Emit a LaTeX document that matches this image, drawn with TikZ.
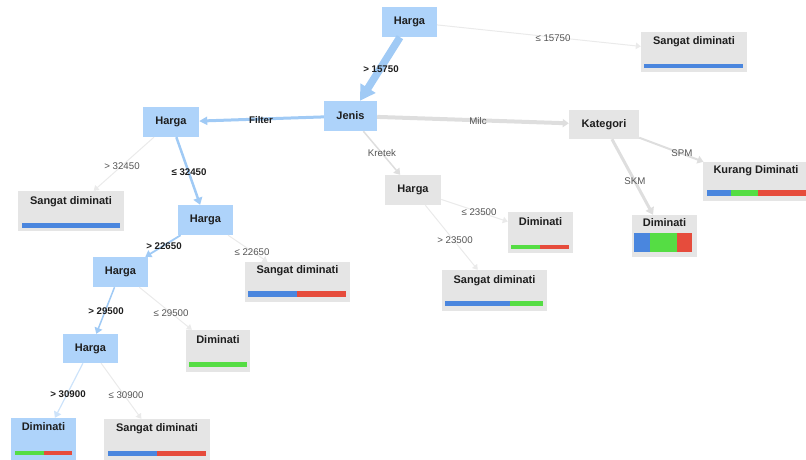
\documentclass[tikz,border=0pt]{standalone}
\usepackage{fontspec}
\setmainfont{Liberation Sans}
\usetikzlibrary{arrows.meta}
\definecolor{nblue}{RGB}{174,211,250}
\definecolor{ngray}{RGB}{229,229,229}
\definecolor{eblue}{RGB}{160,202,245}
\definecolor{epale}{RGB}{205,227,250}
\definecolor{egray}{RGB}{222,222,222}
\definecolor{elight}{RGB}{234,234,234}
\definecolor{bblue}{RGB}{74,134,222}
\definecolor{bgreen}{RGB}{85,221,68}
\definecolor{bred}{RGB}{230,76,60}
\definecolor{ltext}{RGB}{85,85,85}
\definecolor{dtext}{RGB}{30,30,30}
\begin{document}
\begin{tikzpicture}[x=1pt,y=-1pt,
  bluebox/.style={fill=nblue,draw=none,inner sep=0pt,minimum width=55pt,minimum height=30pt,
    font=\fontsize{11}{13}\selectfont\bfseries,text=dtext},
  graybox/.style={bluebox,fill=ngray},
  leaftext/.style={anchor=base,inner sep=0pt,font=\fontsize{11}{13}\selectfont\bfseries,text=dtext},
  elab/.style={inner sep=0pt,text height=7pt,text depth=0pt,font=\fontsize{9.7}{11}\selectfont,text=ltext},
  belab/.style={elab,font=\fontsize{9.7}{11}\selectfont\bfseries,text=dtext},
  arr/.style={-{Triangle[length=#1,width=1.3*#1]}},
  bedge/.style={draw=eblue},
  gedge/.style={draw=elight,line width=1pt,arr=5pt},
]
\useasboundingbox (0,0) rectangle (806,459);
% ---------- inner nodes ----------
\node[bluebox] (root) at (409.5,22) {Harga};
\node[bluebox,minimum width=53pt] (jenis) at (350.5,116) {Jenis};
\node[bluebox,minimum width=56pt] (h1) at (171,122) {Harga};
\node[bluebox] (h2) at (205.5,220) {Harga};
\node[bluebox] (h3) at (120.5,272) {Harga};
\node[bluebox,minimum height=29pt] (h4) at (90.5,348.5) {Harga};
\node[graybox,minimum width=70pt,minimum height=29pt] (kat) at (604,124.5) {Kategori};
\node[graybox,minimum width=56pt] (hk) at (413,190) {Harga};
% ---------- leaves ----------
% top right
\node[graybox,minimum width=106pt,minimum height=40pt] (ltr) at (694,52) {};
\node[leaftext] (ltrt) at (694,44.5) {Sangat diminati};
\fill[bblue] (644,64) rectangle (743,68);
% left
\node[graybox,minimum width=106pt,minimum height=40pt] (lle) at (71,211) {};
\node[leaftext] (llet) at (71,204) {Sangat diminati};
\fill[bblue] (22,223) rectangle (120,227.5);
% mid
\node[graybox,minimum width=105pt,minimum height=40pt] (lmi) at (297.5,282) {};
\node[leaftext] (lmit) at (297.5,273) {Sangat diminati};
\fill[bblue] (248,291) rectangle (297,297);
\fill[bred] (297,291) rectangle (346,297);
% diminati <=29500
\node[graybox,minimum width=64pt,minimum height=42pt] (ldi) at (218,351) {};
\node[leaftext] (ldit) at (218,343) {Diminati};
\fill[bgreen] (189,362) rectangle (247,367);
% bottom-left diminati
\node[bluebox,minimum width=65pt,minimum height=44pt] (lbl) at (43.5,440) {};
\node[leaftext] (lblt) at (43.5,430.5) {Diminati};
\fill[bgreen] (15,451) rectangle (44,455);
\fill[bred] (44,451) rectangle (72,455);
% bottom sangat
\node[graybox,minimum width=106pt,minimum height=43pt] (lbs) at (157,440.5) {};
\node[leaftext] (lbst) at (157,431.5) {Sangat diminati};
\fill[bblue] (108,451) rectangle (157,456);
\fill[bred] (157,451) rectangle (206,456);
% kurang diminati
\node[graybox,minimum width=106pt,minimum height=39pt] (lku) at (756,181.5) {};
\node[leaftext] (lkut) at (756,173) {Kurang Diminati};
\fill[bblue] (707,189.5) rectangle (731,196);
\fill[bgreen] (731,189.5) rectangle (758,196);
\fill[bred] (758,189.5) rectangle (806,196);
% diminati SKM
\node[graybox,minimum width=65pt,minimum height=42pt] (lsk) at (664.5,236) {};
\node[leaftext] (lskt) at (664.5,226.5) {Diminati};
\fill[bblue] (634,233) rectangle (650,252);
\fill[bgreen] (650,233) rectangle (677,252);
\fill[bred] (677,233) rectangle (692,252);
% kretek diminati
\node[graybox,minimum width=65pt,minimum height=41pt] (lkd) at (540.5,232.5) {};
\node[leaftext] (lkdt) at (540.5,225) {Diminati};
\fill[bgreen] (511,245) rectangle (540,249.3);
\fill[bred] (540,245) rectangle (569,249.3);
% kretek sangat
\node[graybox,minimum width=105pt,minimum height=41pt] (lks) at (494.5,290.5) {};
\node[leaftext] (lkst) at (494.5,283.3) {Sangat diminati};
\fill[bblue] (445,301) rectangle (510,306);
\fill[bgreen] (510,301) rectangle (543,306);
% ---------- edges ----------
\draw[bedge,line width=7.5pt,-{Triangle[length=15pt,width=17pt]}] (root) -- (jenis);
\draw[gedge] (root) -- (ltr);
\draw[bedge,line width=3pt,-{Triangle[length=8pt,width=8pt]}] (jenis) -- (h1);
\draw[draw=egray,line width=4pt,-{Triangle[length=6pt,width=8pt]}] (jenis) -- (kat);
\draw[draw=egray,line width=1.5pt,arr=6pt] (jenis) -- (hk);
\draw[gedge] (h1) -- (lle);
\draw[bedge,line width=2.5pt,arr=7pt] (h1) -- (h2);
\draw[bedge,line width=1.8pt,arr=6pt] (h2) -- (h3);
\draw[gedge] (h2) -- (lmi);
\draw[bedge,line width=1.5pt,arr=6pt] (h3) -- (h4);
\draw[gedge] (h3) -- (ldi);
\draw[draw=epale,line width=1.2pt,arr=6pt] (h4) -- (lbl);
\draw[gedge] (h4) -- (lbs);
\draw[draw=egray,line width=2pt,arr=6pt] (kat) -- (lku);
\draw[draw=egray,line width=3pt,arr=7pt] (kat) -- (lsk);
\draw[gedge] (hk) -- (lkd);
\draw[gedge] (hk) -- (lks);
% ---------- edge labels ----------
\node[belab] (e1) at (381,69) {> 15750};
\node[elab] (e2) at (553,38) {≤ 15750};
\node[belab] (e3) at (261,120) {Filter};
\node[elab] (e4) at (478,121) {Milc};
\node[elab] (e5) at (382,153) {Kretek};
\node[elab] (e6) at (122,166) {> 32450};
\node[belab] (e7) at (189,172) {≤ 32450};
\node[belab] (e8) at (164,246) {> 22650};
\node[elab] (e9) at (252,252) {≤ 22650};
\node[belab] (e10) at (106,311) {> 29500};
\node[elab] (e11) at (171,313) {≤ 29500};
\node[belab] (e12) at (68,394) {> 30900};
\node[elab] (e13) at (126,395) {≤ 30900};
\node[elab] (e14) at (682,153) {SPM};
\node[elab] (e15) at (635,181) {SKM};
\node[elab] (e16) at (479,212) {≤ 23500};
\node[elab] (e17) at (455,240) {> 23500};
\end{tikzpicture}
\end{document}
